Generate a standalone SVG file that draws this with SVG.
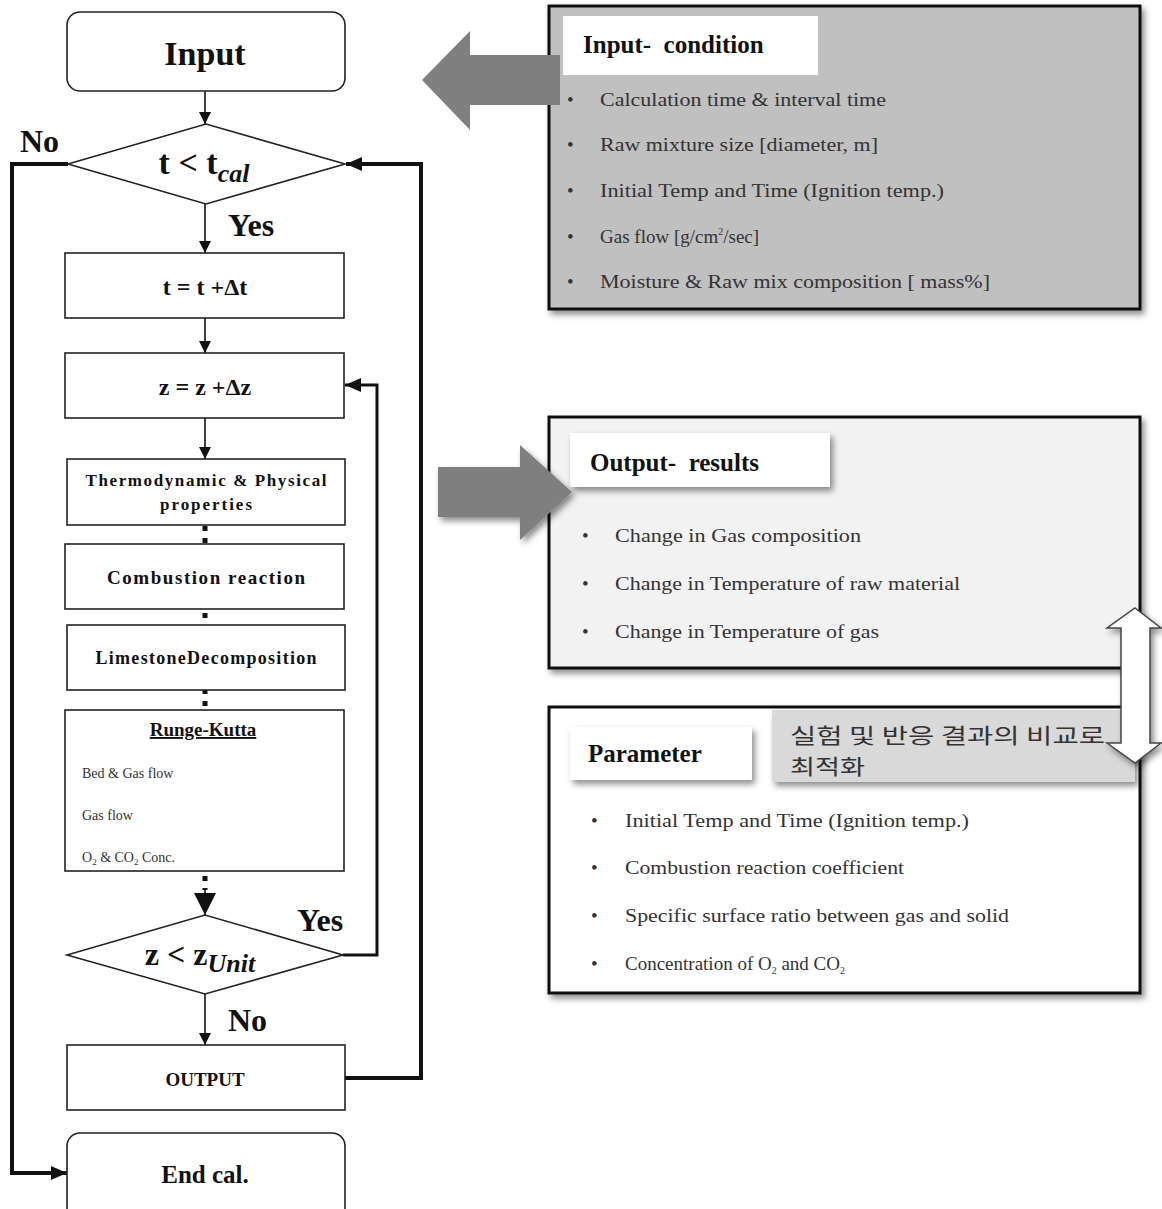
<svg xmlns="http://www.w3.org/2000/svg" width="1162" height="1209" viewBox="0 0 1162 1209">
<style>
.box{fill:#fff;stroke:#222;stroke-width:1.6}
.fc{font-family:"Liberation Serif","Times New Roman",serif;font-weight:bold;fill:#111;text-anchor:middle}
.lbl{font-family:"Liberation Serif","Times New Roman",serif;font-weight:bold;fill:#111}
.rk{font-family:"Liberation Serif","Times New Roman",serif;fill:#333;font-size:14px}
.pt{font-family:"Liberation Serif","Times New Roman",serif;fill:#333;font-size:19px}
.hd{font-family:"Liberation Serif","Times New Roman",serif;font-weight:bold;fill:#111;font-size:25px;white-space:pre}
.ko{font-family:"Noto Sans CJK KR","Noto Sans CJK SC",sans-serif;font-size:21px;fill:#333}
.ln{fill:none;stroke:#111;stroke-width:1.6}
.thick{fill:none;stroke:#111;stroke-width:4}
.mid{fill:none;stroke:#111;stroke-width:3}
.dot{fill:none;stroke:#111;stroke-width:5;stroke-dasharray:5 7}
.panel{stroke:#111;stroke-width:3}
.garrow{fill:#7f7f7f}
</style>
<defs>
<marker id="ah" markerUnits="userSpaceOnUse" markerWidth="12" markerHeight="14" refX="12" refY="6" orient="auto"><path d="M0,0 L12,6 L0,12 Z" fill="#111"/></marker>
<marker id="ahb" markerUnits="userSpaceOnUse" markerWidth="16" markerHeight="16" refX="16" refY="7" orient="auto"><path d="M0,0 L16,7 L0,14 Z" fill="#111"/></marker>
<marker id="ahc" markerUnits="userSpaceOnUse" markerWidth="22" markerHeight="24" refX="22" refY="11" orient="auto"><path d="M0,0 L22,11 L0,22 Z" fill="#111"/></marker>
<filter id="sh" x="-10%" y="-10%" width="125%" height="130%"><feDropShadow dx="3" dy="4" stdDeviation="3" flood-color="#000" flood-opacity="0.45"/></filter>
</defs>

<g id="connectors">
<line class="ln" x1="205" y1="91" x2="205" y2="124" marker-end="url(#ah)"/>
<line class="ln" x1="205" y1="204" x2="205" y2="253" marker-end="url(#ah)"/>
<line class="ln" x1="205" y1="318" x2="205" y2="353" marker-end="url(#ah)"/>
<line class="ln" x1="205" y1="418" x2="205" y2="459" marker-end="url(#ah)"/>
<line class="dot" x1="205" y1="526" x2="205" y2="544"/>
<line class="dot" x1="205" y1="613" x2="205" y2="622"/>
<line class="dot" x1="205" y1="689" x2="205" y2="708"/>
<line class="dot" x1="205" y1="876" x2="205" y2="890"/>
<line class="ln" x1="205" y1="888" x2="205" y2="915" marker-end="url(#ahc)"/>
<line class="ln" x1="205" y1="994" x2="205" y2="1045" marker-end="url(#ah)"/>
<polyline class="thick" points="68,164 12,164 12,1173 67,1173" marker-end="url(#ahb)"/>
<polyline class="thick" points="345,1078 421,1078 421,164 346,164" marker-end="url(#ahb)"/>
<polyline class="mid" points="343,955 377,955 377,385 345,385" marker-end="url(#ahb)"/>
</g>

<g id="input">
<rect class="box" x="67" y="12" width="278" height="79" rx="13"/>
<text class="fc" x="205" y="65" font-size="34">Input</text>
</g>

<g id="cond-t">
<polygon class="box" points="68,164 206,124 345,164 206,204"/>
<text class="fc" x="204" y="174" font-size="34">t &lt; t<tspan font-style="italic" font-size="26" dy="8">cal</tspan></text>
</g>
<text class="lbl" x="20" y="152" font-size="32">No</text>
<text class="lbl" x="228" y="236" font-size="32">Yes</text>

<g id="step-t">
<rect class="box" x="65" y="253" width="279" height="65"/>
<text class="fc" x="205" y="295" font-size="24">t = t +Δt</text>
</g>

<g id="step-z">
<rect class="box" x="65" y="353" width="279" height="65"/>
<text class="fc" x="205" y="395" font-size="24">z = z +Δz</text>
</g>

<g id="thermo">
<rect class="box" x="67" y="459" width="278" height="66"/>
<text class="fc" x="206" y="486" font-size="17" textLength="241" lengthAdjust="spacing">Thermodynamic &amp; Physical</text>
<text class="fc" x="206" y="510" font-size="17" textLength="92" lengthAdjust="spacing">properties</text>
</g>

<g id="combustion">
<rect class="box" x="65" y="544" width="279" height="65"/>
<text class="fc" x="206" y="584" font-size="19" textLength="198" lengthAdjust="spacing">Combustion reaction</text>
</g>

<g id="limestone">
<rect class="box" x="67" y="625" width="278" height="65"/>
<text class="fc" x="206" y="664" font-size="18" textLength="221" lengthAdjust="spacing">LimestoneDecomposition</text>
</g>

<g id="runge-kutta">
<rect class="box" x="65" y="710" width="279" height="161"/>
<text class="fc" x="203" y="736" font-size="19" text-decoration="underline">Runge-Kutta</text>
<text class="rk" x="82" y="778">Bed &amp; Gas flow</text>
<text class="rk" x="82" y="820">Gas flow</text>
<text class="rk" x="82" y="862">O<tspan font-size="9" dy="3">2</tspan><tspan dy="-3"> &amp; CO</tspan><tspan font-size="9" dy="3">2</tspan><tspan dy="-3"> Conc.</tspan></text>
</g>

<g id="cond-z">
<polygon class="box" points="67,955 205,915 343,955 205,994"/>
<text class="fc" x="200" y="965" font-size="32">z &lt; z<tspan font-style="italic" font-size="26" dy="7">Unit</tspan></text>
</g>
<text class="lbl" x="297" y="931" font-size="32">Yes</text>
<text class="lbl" x="228" y="1031" font-size="32">No</text>

<g id="output">
<rect class="box" x="67" y="1045" width="278" height="65"/>
<text class="fc" x="205" y="1086" font-size="19">OUTPUT</text>
</g>

<g id="end">
<rect class="box" x="67" y="1133" width="278" height="90" rx="13"/>
<text class="fc" x="205" y="1183" font-size="25">End cal.</text>
</g>

<g id="input-condition">
<rect class="panel" x="549" y="6" width="591" height="303" fill="#c0c0c0" filter="url(#sh)"/>
<rect x="563" y="16" width="255" height="59" fill="#fff"/>
<text class="hd" x="583" y="53" font-size="24">Input-  condition</text>
<g class="pt">
<text x="567" y="106">•</text><text x="600" y="106" textLength="286" lengthAdjust="spacingAndGlyphs">Calculation time &amp; interval time</text>
<text x="567" y="151">•</text><text x="600" y="151" textLength="278" lengthAdjust="spacingAndGlyphs">Raw mixture size [diameter, m]</text>
<text x="567" y="197">•</text><text x="600" y="197" textLength="344" lengthAdjust="spacingAndGlyphs">Initial Temp and Time (Ignition temp.)</text>
<text x="567" y="243">•</text><text x="600" y="243">Gas flow [g/cm<tspan font-size="10" dy="-8">2</tspan><tspan dy="8">/sec]</tspan></text>
<text x="567" y="288">•</text><text x="600" y="288" textLength="390" lengthAdjust="spacingAndGlyphs">Moisture &amp; Raw mix composition [ mass%]</text>
</g>
</g>
<polygon class="garrow" points="422,80 470,31 470,55 560,55 560,105 470,105 470,130"/>

<g id="output-results">
<rect class="panel" x="549" y="417" width="591" height="251" fill="#f2f2f2" filter="url(#sh)"/>
<rect x="570" y="433" width="260" height="54" fill="#fff" filter="url(#sh)"/>
<text class="hd" x="590" y="471">Output-  results</text>
<g class="pt">
<text x="582" y="542">•</text><text x="615" y="542" textLength="246" lengthAdjust="spacingAndGlyphs">Change  in Gas composition</text>
<text x="582" y="590">•</text><text x="615" y="590" textLength="345" lengthAdjust="spacingAndGlyphs">Change  in Temperature of raw material</text>
<text x="582" y="638">•</text><text x="615" y="638" textLength="264" lengthAdjust="spacingAndGlyphs">Change  in Temperature of gas</text>
</g>
</g>
<polygon class="garrow" points="438,467 520,467 520,445 572,492 520,540 520,517 438,517" filter="url(#sh)"/>

<g id="parameter">
<rect class="panel" x="549" y="707" width="591" height="286" fill="#fff" filter="url(#sh)"/>
<rect x="570" y="727" width="182" height="53" fill="#fff" filter="url(#sh)"/>
<text class="hd" x="588" y="762">Parameter</text>
<rect x="772" y="710" width="363" height="72" fill="#d9d9d9" filter="url(#sh)"/>
<text class="ko" x="790" y="743" textLength="315" lengthAdjust="spacingAndGlyphs">실험 및 반응 결과의 비교로</text>
<text class="ko" x="790" y="774" textLength="75" lengthAdjust="spacingAndGlyphs">최적화</text>
<g class="pt">
<text x="591" y="827">•</text><text x="625" y="827" textLength="344" lengthAdjust="spacingAndGlyphs">Initial Temp and Time (Ignition temp.)</text>
<text x="591" y="874">•</text><text x="625" y="874" textLength="279" lengthAdjust="spacingAndGlyphs">Combustion reaction coefficient</text>
<text x="591" y="922">•</text><text x="625" y="922" textLength="384" lengthAdjust="spacingAndGlyphs">Specific surface ratio between gas and solid</text>
<text x="591" y="970">•</text><text x="625" y="970">Concentration of O<tspan font-size="10" dy="4">2</tspan><tspan dy="-4"> and CO</tspan><tspan font-size="10" dy="4">2</tspan></text>
</g>
</g>

<g id="compare-arrow">
<polygon points="1135,608 1161,628 1150,628 1150,743 1161,743 1135,763 1107,743 1121,743 1121,628 1107,628" fill="#fff" stroke="#444" stroke-width="1.5" filter="url(#sh)"/>
</g>
</svg>
